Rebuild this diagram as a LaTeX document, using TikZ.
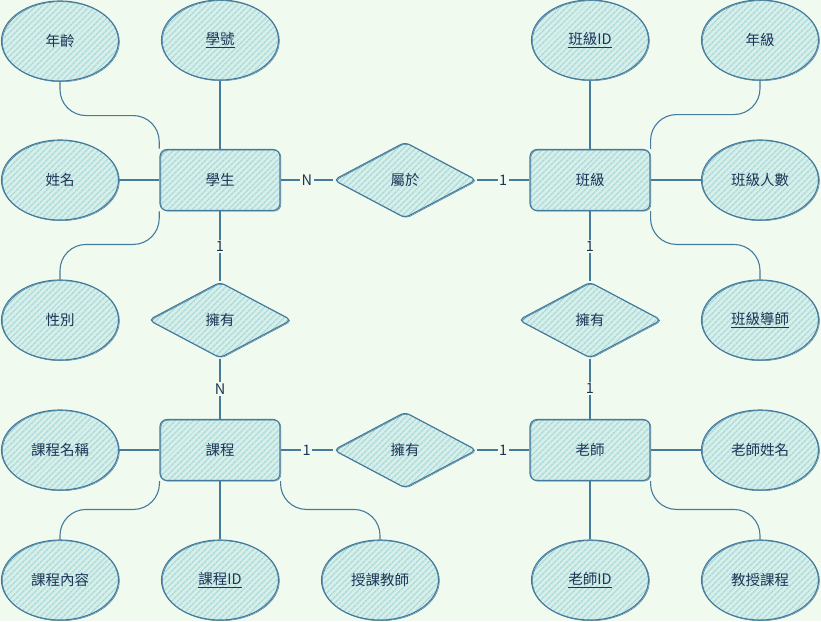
\documentclass[tikz,border=0pt]{standalone}
\usepackage{fontspec}
\setmainfont{Noto Sans CJK TC}
\usetikzlibrary{shapes.geometric,patterns.meta}
\definecolor{bg}{HTML}{F1FAEE}
\definecolor{hatch}{HTML}{A8DADC}
\definecolor{stroke}{HTML}{457B9D}
\definecolor{ink}{HTML}{1D3557}
\tikzset{
  shaded/.style={draw=stroke, line width=1.1pt, text=ink,
    preaction={fill=hatch!35!bg},
    pattern={Lines[angle=45,distance=4pt,line width=1.6pt]}, pattern color=hatch,
    postaction={draw=stroke, line width=0.5pt, transform canvas={shift={(0.9pt,-0.7pt)}}}},
  entity/.style={shaded, rectangle, rounded corners=7pt,
    minimum width=120pt, minimum height=61pt, inner sep=0},
  relation/.style={shaded, diamond, rounded corners=5pt,
    minimum width=143pt, minimum height=76pt, inner sep=0},
  attr/.style={shaded, ellipse, minimum width=117pt, minimum height=80pt, inner sep=0},
  link/.style={draw=stroke, line width=1.1pt},
  elbow/.style={link, rounded corners=26pt},
  card/.style={fill=bg, text=ink, inner sep=1.5pt, font=\fontsize{14.5}{16}\selectfont},
}
\begin{document}
\begin{tikzpicture}[x=1pt, y=-1pt, font=\fontsize{14.5}{16}\selectfont]
\fill[bg] (0,0) rectangle (821,621);
\useasboundingbox (0,0) rectangle (821,621);

% entities
\node[entity] (stu)     at (220,180) {學生};
\node[entity] (cls)     at (590,180) {班級};
\node[entity] (course)  at (220,450) {課程};
\node[entity] (teacher) at (590,450) {老師};

% relationships
\node[relation] (belong) at (405,180) {屬於};
\node[relation] (hasL)   at (220,320) {擁有};
\node[relation] (hasR)   at (590,320) {擁有};
\node[relation] (hasB)   at (405,450) {擁有};

% attributes of 學生
\node[attr] (age)  at (60,41)  {年齡};
\node[attr] (sid)  at (220,40) {\underline{學號}};
\node[attr] (name) at (60,180) {姓名};
\node[attr] (sex)  at (60,320) {性別};

% attributes of 班級
\node[attr] (cid)    at (590,40)  {\underline{班級ID}};
\node[attr] (grade)  at (760,40)  {年級};
\node[attr] (csize)  at (760,180) {班級人數};
\node[attr] (mentor) at (760,320) {\underline{班級導師}};

% attributes of 課程
\node[attr] (cname)    at (60,450)  {課程名稱};
\node[attr] (ccontent) at (60,580)  {課程內容};
\node[attr] (courseid) at (220,580) {\underline{課程ID}};
\node[attr] (lect)     at (380,580) {授課教師};

% attributes of 老師
\node[attr] (tname)   at (760,450) {老師姓名};
\node[attr] (tid)     at (590,580) {\underline{老師ID}};
\node[attr] (tcourse) at (760,580) {教授課程};

% attribute links
\draw[elbow] (age.south) -- ++(0,34) -| (stu.north west);
\draw[link] (sid) -- (stu);
\draw[link] (name) -- (stu);
\draw[elbow] (sex.north) -- ++(0,-35) -| (stu.south west);

\draw[link] (cid) -- (cls);
\draw[elbow] (grade.south) -- ++(0,34) -| (cls.north east);
\draw[link] (csize) -- (cls);
\draw[elbow] (mentor.north) -- ++(0,-35) -| (cls.south east);

\draw[link] (cname) -- (course);
\draw[elbow] (ccontent.north) -- ++(0,-30) -| (course.south west);
\draw[link] (courseid) -- (course);
\draw[elbow] (lect.north) -- ++(0,-30) -| (course.south east);

\draw[link] (tname) -- (teacher);
\draw[link] (tid) -- (teacher);
\draw[elbow] (tcourse.north) -- ++(0,-30) -| (teacher.south east);

% relationship links with cardinalities
\draw[link] (stu) -- node[card] {N} (belong);
\draw[link] (belong) -- node[card] {1} (cls);
\draw[link] (stu) -- node[card] {1} (hasL);
\draw[link] (hasL) -- node[card] {N} (course);
\draw[link] (cls) -- node[card] {1} (hasR);
\draw[link] (hasR) -- node[card] {1} (teacher);
\draw[link] (course) -- node[card] {1} (hasB);
\draw[link] (hasB) -- node[card] {1} (teacher);
\end{tikzpicture}
\end{document}
